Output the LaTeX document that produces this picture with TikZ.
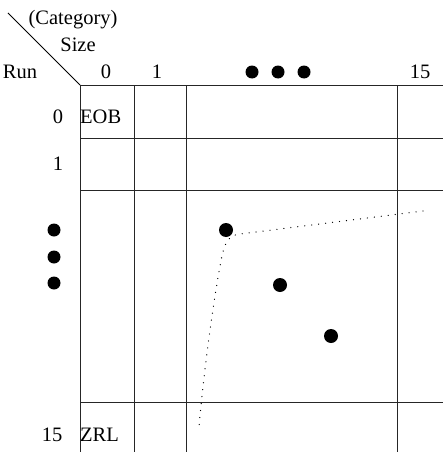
\documentclass[tikz,border=0pt]{standalone}
\usepackage{fontspec}
\setmainfont{Liberation Serif}
\begin{document}
\begin{tikzpicture}[x=1pt,y=-1pt,
  lbl/.style={inner sep=0pt,font=\fontsize{20.5}{23}\selectfont},
  gridline/.style={line width=0.9pt,black!85},
  blob/.style={circle,fill=black,inner sep=0pt,minimum size=14pt},
  trace/.style={line width=1.3pt,dash pattern=on 0.01pt off 7pt,line cap=round}]
\useasboundingbox (0,0) rectangle (443,452);

% table grid
\foreach \x in {80,134,186,397} \draw[gridline] (\x,85) -- (\x,452);
\foreach \y in {85,138,190,402} \draw[gridline] (80,\y) -- (443,\y);
\draw[line width=0.9pt] (8,13) -- (80,85);

% corner heading
\node[lbl] (cat) at (73,20) {(Category)};
\node[lbl] (size) at (78,45) {Size};
\node[lbl] (run) at (20,72) {Run};

% column heads
\node[lbl] (c0) at (106,72) {0};
\node[lbl] (c1) at (157,72) {1};
\node[blob,minimum size=13pt] (h1) at (252,72) {};
\node[blob,minimum size=13pt] (h2) at (278,72) {};
\node[blob,minimum size=13pt] (h3) at (304,72) {};
\node[lbl] (c15) at (420,72) {15};

% row heads
\node[lbl] (r0) at (58,117) {0};
\node[lbl,anchor=west] (eob) at (80,117) {EOB};
\node[lbl] (r1) at (58,164) {1};
\node[blob,minimum size=13pt] (v1) at (54,230) {};
\node[blob,minimum size=13pt] (v2) at (54,257) {};
\node[blob,minimum size=13pt] (v3) at (54,283) {};
\node[lbl] (r15) at (52,435) {15};
\node[lbl,anchor=west] (zrl) at (80,435) {ZRL};

% symbols inside the table
\node[blob] (p1) at (226,230) {};
\node[blob] (p2) at (280,285) {};
\node[blob] (p3) at (331,336) {};

% dotted boundary curve
\coordinate (tEnd) at (423,211);
\coordinate (bEnd) at (199,427);
\draw[trace] (tEnd) -- (240,234)
  .. controls (229,235) and (225,242) .. (222,256)
  .. controls (213,300) and (203,380) .. (bEnd);
\end{tikzpicture}
\end{document}
